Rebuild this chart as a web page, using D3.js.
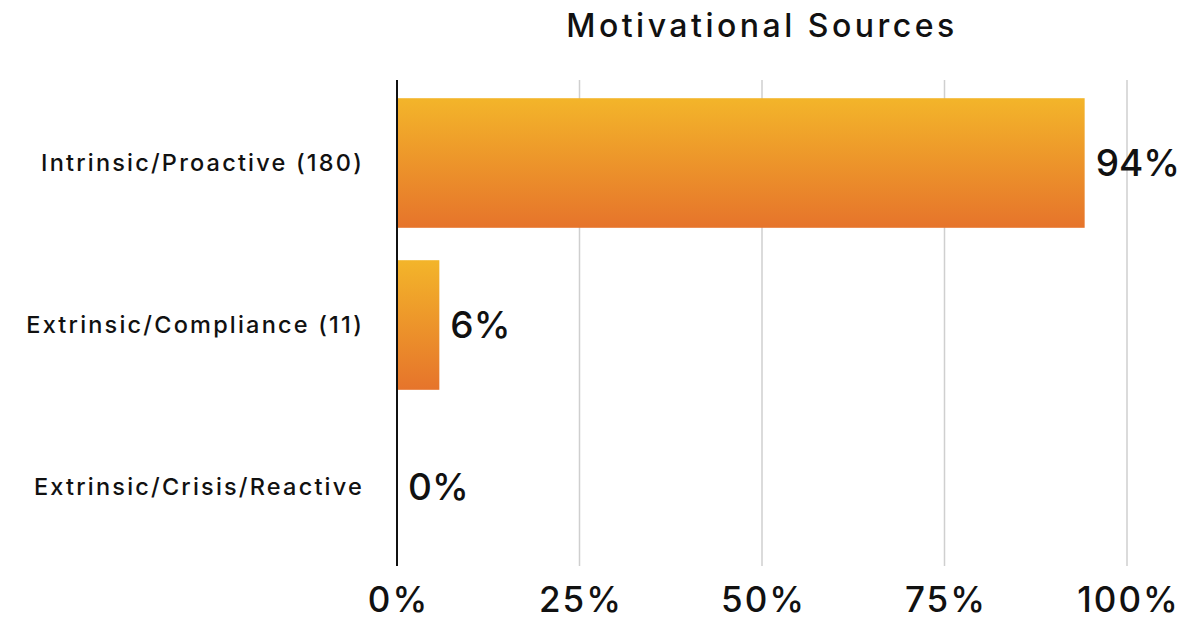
<!DOCTYPE html>
<html><head><meta charset="utf-8">
<script src="https://cdn.jsdelivr.net/npm/d3@7"></script>
<style>body{margin:0;background:#fff;} text{font-family:"Inter","Noto Sans",sans-serif;}</style>
</head><body>
<svg id="chart" width="1203" height="619"></svg>
<script>
const categories = ["Intrinsic/Proactive (180)", "Extrinsic/Compliance (11)", "Extrinsic/Crisis/Reactive"];
const values = [94.2, 5.8, 0];
const valueLabels = ["94%", "6%", "0%"];
const tickValues = [0, 25, 50, 75, 100];
const tickLabels = ["0%", "25%", "50%", "75%", "100%"];
const title = "Motivational Sources";

const svg = d3.select("#chart");
const m = {left: 397, right: 1127, top: 82, bottom: 568};
const x = d3.scaleLinear().domain([0, 100]).range([m.left, m.right]);
const y = d3.scaleBand().domain(categories).range([m.top, m.bottom]).paddingInner(0.2).paddingOuter(0.1);

const defs = svg.append("defs");
const g = defs.append("linearGradient").attr("id", "barGrad").attr("x1", 0).attr("y1", 0).attr("x2", 0).attr("y2", 1);
g.append("stop").attr("offset", "0%").attr("stop-color", "#f3b52a");
g.append("stop").attr("offset", "100%").attr("stop-color", "#e6742b");

const FONT = "Inter, 'Noto Sans', sans-serif";

// title
svg.append("text").attr("x", 762).attr("y", 37).attr("text-anchor", "middle")
  .style("font-size", "32px").style("font-weight", 500).style("letter-spacing", "3.5px")
  .attr("fill", "#111").text(title);

// grid
svg.append("g").selectAll("line").data(tickValues.slice(1)).join("line")
  .attr("x1", d => x(d)).attr("x2", d => x(d)).attr("y1", 80).attr("y2", 566)
  .attr("stroke", "#cfcfcf").attr("stroke-width", 1.5);

// bars
svg.append("g").selectAll("rect").data(values).join("rect")
  .attr("x", x(0)).attr("y", (d, i) => y(categories[i]))
  .attr("width", d => x(d) - x(0)).attr("height", y.bandwidth())
  .attr("fill", "url(#barGrad)");

// zero axis line
svg.append("line").attr("x1", x(0)).attr("x2", x(0)).attr("y1", 80).attr("y2", 566)
  .attr("stroke", "#111").attr("stroke-width", 2);

// x axis tick labels
const xAxis = d3.axisBottom(x).tickValues(tickValues).tickFormat((d, i) => tickLabels[i]).tickSize(0).tickPadding(0);
const xa = svg.append("g").attr("transform", "translate(0,612)").call(xAxis);
xa.select(".domain").remove();
xa.selectAll("text").attr("dy", 0).attr("y", 0).attr("dx", 1).style("font-size", "35px").style("font-family", FONT)
  .style("font-weight", 500).style("letter-spacing", "2px").attr("fill", "#111");

// y axis labels
const yAxis = d3.axisLeft(y).tickSize(0).tickPadding(0);
const ya = svg.append("g").attr("transform", "translate(364,0)").call(yAxis);
ya.select(".domain").remove();
ya.selectAll("text").attr("dy", "0.35em").style("font-size", "23.5px").style("font-family", FONT)
  .style("font-weight", 500).style("letter-spacing", "2.2px").attr("fill", "#111");

// value labels
svg.append("g").selectAll("text").data(values).join("text")
  .attr("x", d => x(d) + 11).attr("y", (d, i) => y(categories[i]) + y.bandwidth() / 2)
  .attr("dy", "0.35em").style("font-size", "37px").style("font-weight", 500).attr("fill", "#111")
  .text((d, i) => valueLabels[i]);
</script>
</body></html>
